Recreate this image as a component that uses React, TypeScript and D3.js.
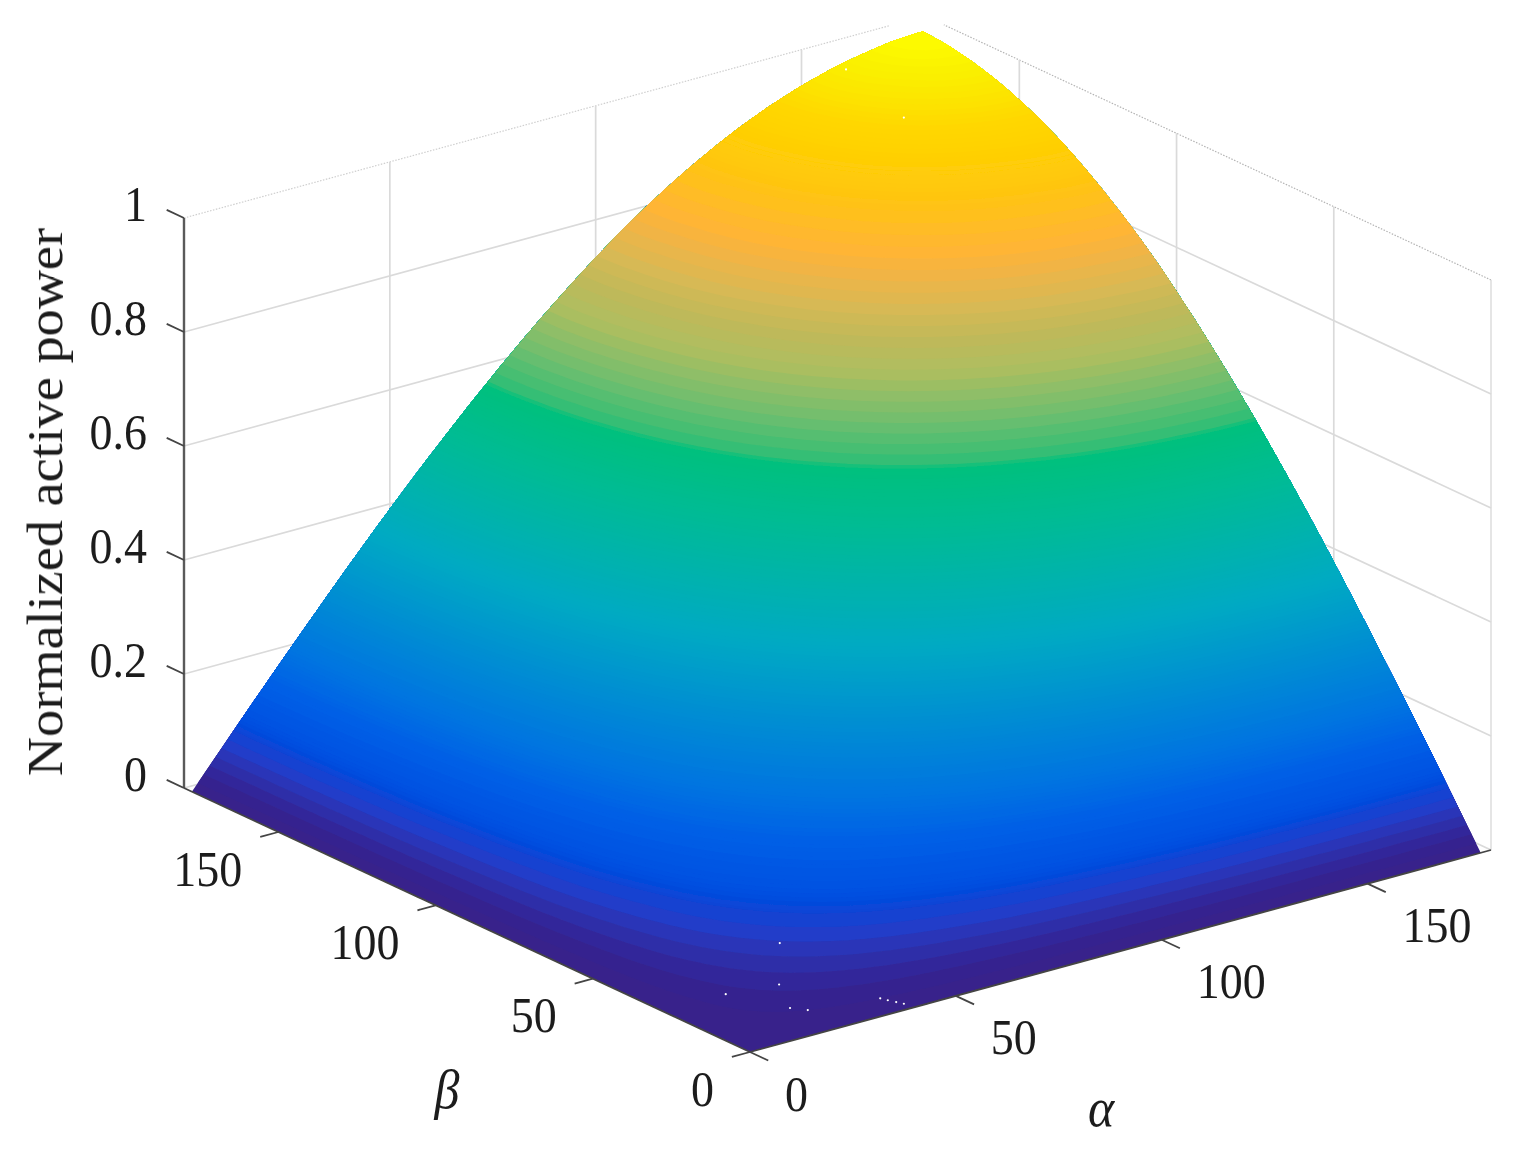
import { useEffect, useRef } from "react";
import * as d3 from "d3";

const width = 1519;
const height = 1157;

// axis values
const alphaTicks = [0, 50, 100, 150];
const betaTicks = [0, 50, 100, 150];
const zTicks = [0, 0.2, 0.4, 0.6, 0.8, 1];
const zTickLabels = ["0", "0.2", "0.4", "0.6", "0.8", "1"];

// surface samples, rows = beta, columns = alpha
const surfaceAngles = [0, 15, 30, 45, 60, 75, 90, 105, 120, 135, 150, 165, 177.5];
const surfaceValues = [
  [0, 0, 0, 0, 0, 0, 0, 0, 0, 0, 0, 0, 0],
  [0, 0.017, 0.033, 0.049, 0.064, 0.079, 0.091, 0.102, 0.112, 0.119, 0.125, 0.128, 0.129],
  [0, 0.033, 0.066, 0.098, 0.127, 0.155, 0.18, 0.203, 0.221, 0.236, 0.246, 0.253, 0.255],
  [0, 0.049, 0.098, 0.144, 0.188, 0.23, 0.267, 0.299, 0.327, 0.348, 0.364, 0.374, 0.377],
  [0, 0.064, 0.127, 0.188, 0.246, 0.3, 0.348, 0.391, 0.427, 0.455, 0.476, 0.488, 0.492],
  [0, 0.079, 0.155, 0.23, 0.3, 0.365, 0.424, 0.476, 0.519, 0.554, 0.579, 0.594, 0.599],
  [0, 0.091, 0.18, 0.267, 0.348, 0.424, 0.493, 0.553, 0.604, 0.644, 0.673, 0.691, 0.696],
  [0, 0.102, 0.203, 0.299, 0.391, 0.476, 0.553, 0.621, 0.678, 0.723, 0.756, 0.775, 0.782],
  [0, 0.112, 0.221, 0.327, 0.427, 0.519, 0.604, 0.678, 0.74, 0.789, 0.825, 0.846, 0.853],
  [0, 0.119, 0.236, 0.348, 0.455, 0.554, 0.644, 0.723, 0.789, 0.841, 0.879, 0.902, 0.91],
  [0, 0.125, 0.246, 0.364, 0.476, 0.579, 0.673, 0.756, 0.825, 0.879, 0.92, 0.944, 0.951],
  [0, 0.128, 0.253, 0.374, 0.488, 0.594, 0.691, 0.775, 0.846, 0.902, 0.944, 0.968, 0.976],
  [0, 0.129, 0.255, 0.377, 0.492, 0.599, 0.696, 0.782, 0.853, 0.91, 0.951, 0.976, 0.984],
];

// colour stops of the surface
const colorStops = [
  0, 0.015, 0.032, 0.05, 0.067, 0.09, 0.105, 0.155, 0.2, 0.37, 0.5, 0.574, 0.578, 0.588, 0.63,
  0.685, 0.717, 0.752, 0.787, 0.81, 0.875, 0.93, 0.968, 0.99,
];
const colorValues = [
  "#38218a", "#37238c", "#32289b", "#2d32af", "#233cc8", "#0a46d7", "#0050e1", "#005fe6",
  "#0073e1", "#00aac3", "#00bb96", "#00c07d", "#2abf77", "#3cbe73", "#73be6e", "#afbe5f",
  "#beb95a", "#d7b955", "#f0b446", "#ffb437", "#ffc80a", "#ffd700", "#faf000", "#ffff00",
];

// stray white pixels on the surface [alpha, beta]
const specks = [
  [29, 28.5], [21.2, 18.5], [11.6, 22.9], [17.9, 10.7], [20.3, 8.2],
  [35.3, 4.8], [36.3, 3.7], [37.5, 2.6], [38.6, 1.6], [157, 175], [155, 154],
];

const bandEdges = [
  ...d3.range(0, 0.09, 0.0125),
  ...d3.range(0.09, 0.578, 0.004),
  ...d3.range(0.578, 0.86, 0.012),
  ...d3.range(0.86, 1, 0.004),
];

const angleMax = 180;
const surfaceMax = 177.5;
const meshStep = 2.5;
const textStretch = 1.085;

// oblique projection, one scale for each axis contribution
const xAlpha = d3.scaleLinear().domain([0, angleMax]).range([0, 741]);
const yAlpha = d3.scaleLinear().domain([0, angleMax]).range([0, -202]);
const xBeta = d3.scaleLinear().domain([0, angleMax]).range([0, -566]);
const yBeta = d3.scaleLinear().domain([0, angleMax]).range([0, -264]);
const yZ = d3.scaleLinear().domain([0, 1]).range([0, -570]);
const originX = 750;
const originY = 1052;

const project = (a: number, b: number, z: number): [number, number] => [
  originX + xAlpha(a) + xBeta(b),
  originY + yAlpha(a) + yBeta(b) + yZ(z),
];

const color = d3
  .scaleLinear<string>()
  .domain(colorStops)
  .range(colorValues)
  .interpolate(d3.interpolateRgb);

const angleIndex = d3
  .scaleLinear()
  .domain(surfaceAngles)
  .range(surfaceAngles.map((_, i) => i))
  .clamp(true);

const catmull = (p0: number, p1: number, p2: number, p3: number, t: number) =>
  0.5 *
  (2 * p1 +
    (p2 - p0) * t +
    (2 * p0 - 5 * p1 + 4 * p2 - p3) * t * t +
    (3 * p1 - p0 - 3 * p2 + p3) * t * t * t);

const last = surfaceAngles.length - 1;
const at = (r: number, c: number) => {
  // reflect at the ends so the edges keep their slope
  const rr = r < 0 ? 0 : r > last ? last : r;
  const cc = c < 0 ? 0 : c > last ? last : c;
  const v = surfaceValues[rr][cc];
  const ex = r < 0 ? -surfaceValues[1][cc] : r > last ? surfaceValues[last - 1][cc] : null;
  if (ex !== null) return ex;
  if (c < 0) return -surfaceValues[rr][1];
  if (c > last) return surfaceValues[rr][last - 1];
  return v;
};

const surfaceAt = (a: number, b: number) => {
  const ia = angleIndex(a);
  const ib = angleIndex(b);
  const c = Math.min(Math.floor(ia), last - 1);
  const r = Math.min(Math.floor(ib), last - 1);
  const tc = ia - c;
  const tr = ib - r;
  const rows = [-1, 0, 1, 2].map((d) =>
    catmull(at(r + d, c - 1), at(r + d, c), at(r + d, c + 1), at(r + d, c + 2), tc),
  );
  return Math.max(0, catmull(rows[0], rows[1], rows[2], rows[3], tr));
};

const App = () => {
  const ref = useRef<SVGSVGElement>(null);

  useEffect(() => {
    const svg = d3.select(ref.current);
    svg.selectAll("*").remove();

    const filter = svg
      .append("defs")
      .append("filter")
      .attr("id", "soft")
      .attr("x", "-5%")
      .attr("y", "-5%")
      .attr("width", "110%")
      .attr("height", "110%");
    filter.append("feGaussianBlur").attr("stdDeviation", 0.7);

    const root = svg.append("g").attr("filter", "url(#soft)");

    const seg = (
      g: any,
      p: [number, number],
      q: [number, number],
      stroke: string,
      w: number,
      dash?: string,
    ) =>
      g
        .append("line")
        .attr("x1", p[0])
        .attr("y1", p[1])
        .attr("x2", q[0])
        .attr("y2", q[1])
        .attr("stroke", stroke)
        .attr("stroke-width", w)
        .attr("stroke-dasharray", dash ?? null);

    // walls behind the surface
    const grid = root.append("g");
    const gridColor = "#dadada";
    zTicks.slice(0, -1).forEach((z) => {
      seg(grid, project(0, angleMax, z), project(angleMax, angleMax, z), gridColor, 1.7);
      seg(grid, project(angleMax, 0, z), project(angleMax, angleMax, z), gridColor, 1.7);
    });
    seg(grid, project(0, angleMax, 1), project(171.5, angleMax, 1), "#cfcfcf", 1.2, "1.5 1.5");
    seg(grid, project(angleMax, 0, 1), project(angleMax, 174, 1), "#b4b4b4", 1.2, "1.5 1.5");
    alphaTicks.slice(1).forEach((a) => {
      seg(grid, project(a, angleMax, 0), project(a, angleMax, 1), gridColor, 1.7);
    });
    betaTicks.slice(1).forEach((b) => {
      seg(grid, project(angleMax, b, 0), project(angleMax, b, 1), gridColor, 1.7);
    });
    seg(grid, project(angleMax, 0, 0), project(angleMax, 0, 1), gridColor, 1.4);

    // surface as filled bands, low to high
    const mesh = d3.range(0, surfaceMax + 0.01, meshStep);
    const n = mesh.length;
    const values = new Float64Array(n * n);
    mesh.forEach((b, j) => {
      mesh.forEach((a, i) => {
        values[j * n + i] = surfaceAt(a, b);
      });
    });
    const lower = [-1, ...bandEdges.slice(1)];
    const contours = d3.contours().size([n, n]).thresholds(lower)(values as any);
    const toAngle = d3
      .scaleLinear()
      .domain([0.5, n - 0.5])
      .range([0, surfaceMax])
      .clamp(true);

    const surface = root.append("g");
    contours.forEach((c: any, k: number) => {
      const lo = bandEdges[k];
      const hi = k + 1 < bandEdges.length ? bandEdges[k + 1] : 1;
      const path = d3.path();
      c.coordinates.forEach((poly: number[][][]) => {
        poly.forEach((ring) => {
          ring.forEach(([px, py], idx) => {
            const a = toAngle(px);
            const b = toAngle(py);
            const [x, y] = project(a, b, surfaceAt(a, b));
            if (idx === 0) path.moveTo(x, y);
            else path.lineTo(x, y);
          });
          path.closePath();
        });
      });
      surface
        .append("path")
        .attr("d", path.toString())
        .attr("fill", color((lo + hi) / 2))
        .attr("stroke", "none");
    });

    surface
      .selectAll("circle")
      .data(specks)
      .enter()
      .append("circle")
      .attr("cx", (d) => project(d[0], d[1], surfaceAt(d[0], d[1]))[0])
      .attr("cy", (d) => project(d[0], d[1], surfaceAt(d[0], d[1]))[1])
      .attr("r", 1.1)
      .attr("fill", "#fff");

    // axes
    const axisColor = "#444";
    const axes = root.append("g");
    seg(axes, project(0, angleMax, 0), project(0, angleMax, 1), "#5a5a5a", 2.4);
    seg(axes, project(0, 0, 0), project(0, angleMax, 0), axisColor, 1.8);
    seg(axes, project(0, 0, 0), project(angleMax, 0, 0), axisColor, 1.8);

    zTicks.forEach((z) => {
      seg(axes, project(0, angleMax, z), project(0, angleMax + 5.5, z), axisColor, 1.8);
    });
    betaTicks.forEach((b) => {
      seg(axes, project(0, b, 0), project(-4.4, b, 0), axisColor, 1.8);
    });
    alphaTicks.forEach((a) => {
      seg(axes, project(a, 0, 0), project(a, -5.8, 0), axisColor, 1.8);
    });

    const text = root
      .append("g")
      .attr("font-family", "'Liberation Serif', 'Times New Roman', serif")
      .attr("font-size", 46)
      .attr("fill", "#1c1c1c");

    const label = (x: number, y: number, s: string | number, anchor = "start") =>
      text
        .append("text")
        .attr("transform", `translate(${x},${y}) scale(1,${textStretch})`)
        .attr("text-anchor", anchor)
        .text(s);

    zTicks.forEach((z, i) => {
      const [x, y] = project(0, angleMax, z);
      label(x - 37, y + 2.5, zTickLabels[i], "end");
    });
    betaTicks.forEach((b) => {
      const [x, y] = project(0, b, 0);
      label(x - 36, y + 53.5, b, "end");
    });
    alphaTicks.forEach((a) => {
      const [x, y] = project(a, 0, 0);
      label(x + 35, y + 58.5, a);
    });

    text
      .append("text")
      .attr("transform", `translate(62,502) rotate(-90) scale(${textStretch},1)`)
      .attr("text-anchor", "middle")
      .attr("font-size", 50)
      .text("Normalized active power");
    label(447, 1108, "β", "middle").attr("font-style", "italic").attr("font-size", 50);
    label(1101, 1126, "α", "middle").attr("font-style", "italic").attr("font-size", 50);
  }, []);

  return (
    <svg
      ref={ref}
      width={width}
      height={height}
      viewBox={`0 0 ${width} ${height}`}
      style={{ position: "absolute", left: 0, top: 0, background: "#fff" }}
    />
  );
};

export default App;
